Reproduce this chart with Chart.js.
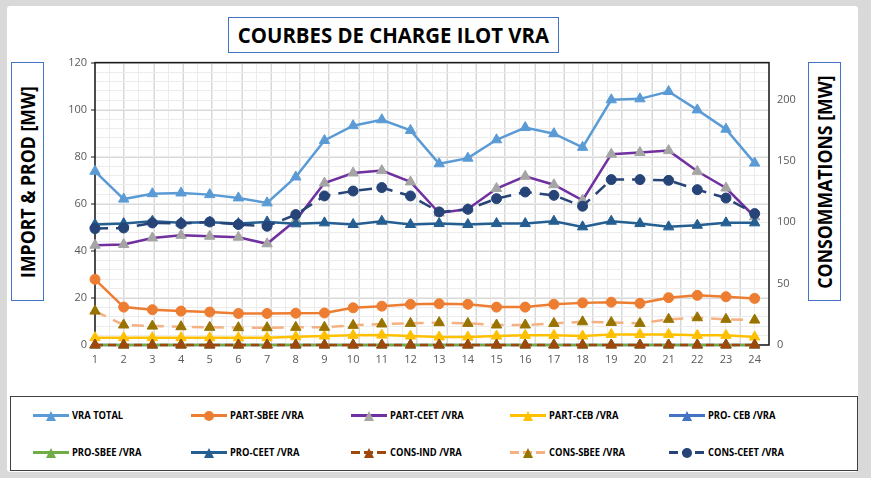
<!DOCTYPE html>
<html>
<head>
<meta charset="utf-8">
<script src="https://cdn.jsdelivr.net/npm/chart.js@4.4.0/dist/chart.umd.min.js"></script>
<style>
    body { margin: 0; width: 871px; height: 478px; background: #d9d9d9; overflow: hidden; font-family: 'Open Sans', sans-serif; }
    #panel { position: absolute; left: 7px; top: 6px; width: 851px; height: 466px; background: #fff; border-radius: 3px; }
    #title { position: absolute; left: 228px; top: 17px; width: 329px; height: 34px; border: 1px solid #4472c4; background: #fff;
             display: flex; align-items: center; justify-content: center; }
    #title span { font-weight: bold; font-size: 21px; color: #000; transform: scaleX(0.97); white-space: nowrap; }
    .ytitle { position: absolute; top: 62px; width: 31px; height: 237px; border: 1px solid #4472c4; background: #fff; }
    .ytitle span { position: absolute; left: 50%; top: 50%; transform: translate(-50%, -50%) rotate(-90deg) scaleX(0.93);
                   font-weight: bold; font-size: 19px; white-space: nowrap; color: #000; }
    #wrap { position: absolute; left: 45px; top: 48px; width: 755px; height: 320px; }
    #legend { position: absolute; left: 10px; top: 396px; width: 846px; height: 73px; border: 1px solid #404040; background: #fff; }
    .item { position: absolute; height: 14px; }
    .icon { position: absolute; left: 0; top: 0; width: 36px; height: 14px; }
    .seg { position: absolute; left: 0; top: 5px; width: 36px; height: 3px; }
    .mk { position: absolute; left: 13px; top: 2px; width: 10px; height: 10px; }
    .tri { clip-path: polygon(50% 0, 100% 100%, 0 100%); }
    .dot { border-radius: 50%; }
    .lab { position: absolute; left: 39px; top: -2px; font-weight: bold; font-size: 11px; white-space: nowrap; color: #000;
           transform: scaleX(0.85); transform-origin: left center; }
</style>
</head>
<body>
<div id="panel"></div>
<div id="title"><span>COURBES DE CHARGE ILOT VRA</span></div>
<div class="ytitle" style="left:11px"><span>IMPORT &amp; PROD [MW]</span></div>
<div class="ytitle" style="left:808px"><span>CONSOMMATIONS [MW]</span></div>
<div id="wrap"><canvas id="chart"></canvas></div>
<div id="legend"></div>
<script>
const hours = [1, 2, 3, 4, 5, 6, 7, 8, 9, 10, 11, 12, 13, 14, 15, 16, 17, 18, 19, 20, 21, 22, 23, 24];

// import & prod (left axis, MW)
const vraTotal = [73.8, 62.0, 64.3, 64.6, 63.9, 62.5, 60.4, 71.4, 86.9, 93.2, 95.7, 91.2, 77.0, 79.4, 87.2, 92.4, 89.8, 84.0, 104.2, 104.6, 107.7, 99.9, 91.7, 77.3];
const partSbee = [27.9, 16.1, 15.0, 14.4, 14.0, 13.4, 13.4, 13.5, 13.6, 15.8, 16.5, 17.3, 17.5, 17.3, 16.1, 16.1, 17.3, 17.9, 18.2, 17.7, 20.1, 21.1, 20.5, 19.8];
const partCeet = [42.4, 42.7, 45.5, 46.6, 46.2, 45.8, 43.0, 53.0, 68.8, 73.1, 74.1, 69.3, 56.1, 57.8, 66.5, 71.7, 68.1, 61.5, 81.1, 81.8, 82.6, 73.8, 66.7, 54.5];
const partCeb = [3.1, 3.1, 3.1, 3.1, 3.1, 3.1, 3.1, 3.5, 3.8, 4.1, 4.2, 3.8, 3.4, 3.4, 3.8, 4.1, 4.1, 3.8, 4.5, 4.5, 4.5, 4.1, 4.1, 3.4];
const proCeb = [0, 0, 0, 0, 0, 0, 0, 0, 0, 0, 0, 0, 0, 0, 0, 0, 0, 0, 0, 0, 0, 0, 0, 0];
const proSbee = [0, 0, 0, 0, 0, 0, 0, 0, 0, 0, 0, 0, 0, 0, 0, 0, 0, 0, 0, 0, 0, 0, 0, 0];
const proCeet = [51.2, 51.6, 52.6, 51.9, 52.2, 51.6, 52.3, 51.5, 51.9, 51.2, 52.6, 51.2, 51.6, 51.2, 51.6, 51.6, 52.6, 50.2, 52.6, 51.6, 50.2, 50.9, 51.9, 51.9];

// consommations (right axis, MW)
const consInd = [0, 0, 0, 0, 0, 0, 0, 0, 0, 0, 0, 0, 0, 0, 0, 0, 0, 0, 0, 0, 0, 0, 0, 0];
const consSbee = [27.6, 16.3, 15.4, 14.9, 14.4, 14.1, 14.1, 14.4, 14.4, 16.0, 17.1, 17.6, 18.2, 17.6, 16.3, 16.3, 17.6, 18.9, 18.4, 17.6, 20.9, 22.2, 20.9, 20.3];
const consCeet = [94.8, 95.3, 99.4, 98.9, 100.2, 98.1, 96.7, 106.2, 121.4, 125.4, 128.2, 121.4, 108.4, 110.5, 119.2, 124.6, 121.9, 113.0, 134.7, 134.7, 134.1, 126.5, 119.7, 107.0];

const leftTicks = [0, 20, 40, 60, 80, 100, 120];
const rightTicks = [0, 50, 100, 150, 200];

const series = [
    { name: 'VRA TOTAL', data: vraTotal, line: '#5b9bd5', mark: '#5b9bd5', shape: 'triangle', axis: 'y' },
    { name: 'PART-SBEE /VRA', data: partSbee, line: '#ed7d31', mark: '#ed7d31', shape: 'circle', axis: 'y' },
    { name: 'PART-CEET /VRA', data: partCeet, line: '#7030a0', mark: '#a5a5a5', shape: 'triangle', axis: 'y' },
    { name: 'PART-CEB /VRA', data: partCeb, line: '#ffc000', mark: '#ffc000', shape: 'triangle', axis: 'y' },
    { name: 'PRO- CEB /VRA', data: proCeb, line: '#4472c4', mark: '#4472c4', shape: 'triangle', axis: 'y' },
    { name: 'PRO-SBEE /VRA', data: proSbee, line: '#70ad47', mark: '#70ad47', shape: 'triangle', axis: 'y' },
    { name: 'PRO-CEET /VRA', data: proCeet, line: '#255e91', mark: '#255e91', shape: 'triangle', axis: 'y' },
    { name: 'CONS-IND /VRA', data: consInd, line: '#9e480e', mark: '#9e480e', shape: 'triangle', axis: 'y1', dash: [8, 5] },
    { name: 'CONS-SBEE  /VRA', data: consSbee, line: '#f4b183', mark: '#997300', shape: 'triangle', axis: 'y1', dash: [12, 8] },
    { name: 'CONS-CEET  /VRA', data: consCeet, line: '#264478', mark: '#264478', shape: 'circle', axis: 'y1', dash: [13, 8] }
];

const tickFont = { family: "'Open Sans', sans-serif", size: 11 };
const tickColor = '#595959';

const plotBorder = {
    id: 'plotBorder',
    beforeDatasetsDraw(chart) {
        const a = chart.chartArea, ctx = chart.ctx;
        ctx.save();
        ctx.strokeStyle = '#1a1a1a';
        ctx.lineWidth = 1.5;
        ctx.strokeRect(a.left, a.top, a.right - a.left, a.bottom - a.top);
        ctx.restore();
    }
};

new Chart(document.getElementById('chart'), {
    type: 'line',
    data: {
        datasets: series.map((s, i) => ({
            label: s.name,
            data: s.data.map((v, j) => ({ x: hours[j], y: v })),
            yAxisID: s.axis,
            borderColor: s.line,
            backgroundColor: s.mark,
            pointBackgroundColor: s.mark,
            pointBorderColor: s.mark,
            pointStyle: s.shape,
            pointRadius: s.shape === 'circle' ? 5 : 6,
            pointBorderWidth: 1,
            borderWidth: 2.5,
            borderDash: s.dash || [],
            tension: 0,
            fill: false,
            clip: false,
            order: series.length - i
        }))
    },
    options: {
        responsive: true,
        maintainAspectRatio: false,
        animation: false,
        layout: { padding: 0 },
        plugins: { legend: { display: false }, tooltip: { enabled: false } },
        scales: {
            x: {
                type: 'linear', position: 'bottom', min: 1, max: 24.5,
                afterBuildTicks: s => { s.ticks = hours.map(h => ({ value: h })); },
                ticks: { color: tickColor, font: tickFont, padding: 0, maxRotation: 0, autoSkip: false },
                grid: { display: false },
                border: { display: false },
                afterFit: s => { s.height = 23; }
            },
            xGrid: {
                type: 'linear', position: 'bottom', min: 0, max: 23, z: -1,
                ticks: { display: false, stepSize: 1 },
                grid: { color: '#d9d9d9', lineWidth: 2, drawTicks: false },
                border: { display: false },
                afterFit: s => { s.height = 0; }
            },
            xMinor: {
                type: 'linear', position: 'bottom', min: 0, max: 46, z: -2,
                ticks: { display: false, stepSize: 1 },
                grid: { color: '#ececec', lineWidth: 1, drawTicks: false },
                border: { display: false },
                afterFit: s => { s.height = 0; }
            },
            y: {
                type: 'linear', position: 'left', min: 0, max: 120, z: -1,
                afterBuildTicks: s => { s.ticks = leftTicks.map(v => ({ value: v })); },
                ticks: { color: tickColor, font: tickFont, padding: 4 },
                grid: { color: '#d9d9d9', lineWidth: 2, tickColor: '#1a1a1a', tickLength: 4, tickWidth: 1 },
                border: { display: false },
                afterFit: s => { s.width = 50; }
            },
            yMinor: {
                type: 'linear', position: 'left', min: 0, max: 120, z: -2,
                ticks: { display: false, stepSize: 4 },
                grid: { color: '#ececec', lineWidth: 1, drawTicks: false },
                border: { display: false },
                afterFit: s => { s.width = 0; }
            },
            y1: {
                type: 'linear', position: 'right', min: 0, max: 230,
                afterBuildTicks: s => { s.ticks = rightTicks.map(v => ({ value: v })); },
                ticks: { color: tickColor, font: tickFont, padding: 8 },
                grid: { drawOnChartArea: false, tickLength: 0 },
                border: { display: false },
                afterFit: s => { s.width = 31; }
            }
        }
    },
    plugins: [plotBorder]
});

// legend
const legend = document.getElementById('legend');
const colX = [22, 180, 340, 499, 658];
const rowY = [12, 49];
series.forEach((s, i) => {
    const item = document.createElement('div');
    item.className = 'item';
    item.style.left = colX[i % 5] + 'px';
    item.style.top = rowY[Math.floor(i / 5)] + 'px';
    let segStyle = 'background:' + s.line;
    if (s.dash) {
        segStyle = 'background:repeating-linear-gradient(90deg,' + s.line + ' 0 9px, transparent 9px 13px)';
    }
    item.innerHTML = '<div class="icon"><div class="seg" style="' + segStyle + '"></div>' +
        '<div class="mk ' + (s.shape === 'circle' ? 'dot' : 'tri') + '" style="background:' + s.mark + '"></div></div>' +
        '<div class="lab">' + s.name + '</div>';
    legend.appendChild(item);
});
</script>
</body>
</html>
